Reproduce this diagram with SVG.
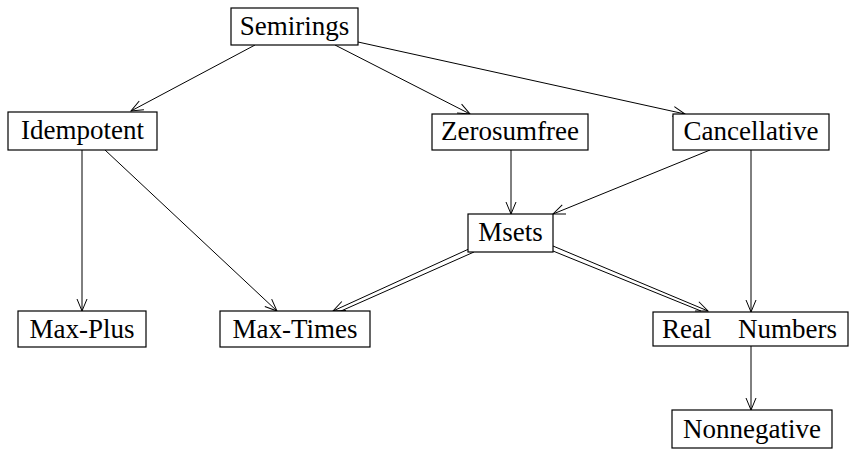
<svg xmlns="http://www.w3.org/2000/svg" width="849" height="451" viewBox="0 0 849 451">
<style>
.box{fill:#fff;stroke:#000;stroke-width:1.2}
.lbl{font-size:27px;fill:#000;text-anchor:middle}
.e{stroke:#000;stroke-width:1;fill:none}
</style>
<defs>
<marker id="ah" markerUnits="userSpaceOnUse" markerWidth="14" markerHeight="14" refX="12" refY="5" orient="auto" overflow="visible">
<path d="M0,0 L12,5 L0,10" fill="none" stroke="#000" stroke-width="1"/>
</marker>
</defs>
<rect width="849" height="451" fill="#fff"/>
<g id="connectors">
<line class="e" x1="255" y1="45" x2="131" y2="111" marker-end="url(#ah)"/>
<line class="e" x1="335" y1="45" x2="470" y2="114" marker-end="url(#ah)"/>
<line class="e" x1="358" y1="42" x2="685" y2="114" marker-end="url(#ah)"/>
<line class="e" x1="82" y1="150" x2="82" y2="311" marker-end="url(#ah)"/>
<line class="e" x1="105" y1="150" x2="277" y2="311" marker-end="url(#ah)"/>
<line class="e" x1="511" y1="150" x2="511" y2="214" marker-end="url(#ah)"/>
<line class="e" x1="710" y1="150" x2="553" y2="214" marker-end="url(#ah)"/>
<line class="e" x1="751" y1="150" x2="751" y2="312" marker-end="url(#ah)"/>
<line class="e" x1="751" y1="346" x2="751" y2="410" marker-end="url(#ah)"/>
<line class="e" x1="471" y1="248" x2="333" y2="311" marker-end="url(#ah)"/>
<line class="e" x1="474" y1="252" x2="341" y2="311"/>
<line class="e" x1="553" y1="246" x2="708" y2="311" marker-end="url(#ah)"/>
<line class="e" x1="553" y1="251" x2="701" y2="311"/>
</g>
<g id="nodes" font-family="'Liberation Serif', 'Times New Roman', serif">
<g id="semirings"><rect class="box" x="231" y="8" width="127" height="37"/><text class="lbl" x="294.5" y="35">Semirings</text></g>
<g id="idempotent"><rect class="box" x="8" y="112" width="149" height="38"/><text class="lbl" x="82.5" y="139">Idempotent</text></g>
<g id="zerosumfree"><rect class="box" x="432" y="114" width="156" height="36"/><text class="lbl" x="510" y="140">Zerosumfree</text></g>
<g id="cancellative"><rect class="box" x="673" y="114" width="156" height="36"/><text class="lbl" x="751" y="140">Cancellative</text></g>
<g id="msets"><rect class="box" x="468" y="214" width="85" height="38"/><text class="lbl" x="510.5" y="241">Msets</text></g>
<g id="maxplus"><rect class="box" x="18" y="311" width="128" height="36"/><text class="lbl" x="82" y="338">Max-Plus</text></g>
<g id="maxtimes"><rect class="box" x="220" y="311" width="150" height="36"/><text class="lbl" x="295" y="338">Max-Times</text></g>
<g id="realnumbers"><rect class="box" x="653" y="312" width="195" height="34"/><text class="lbl" style="text-anchor:start" y="338"><tspan x="662">Real</tspan> <tspan x="738">Numbers</tspan></text></g>
<g id="nonnegative"><rect class="box" x="672" y="410" width="160" height="38"/><text class="lbl" x="752" y="438">Nonnegative</text></g>
</g>
</svg>
